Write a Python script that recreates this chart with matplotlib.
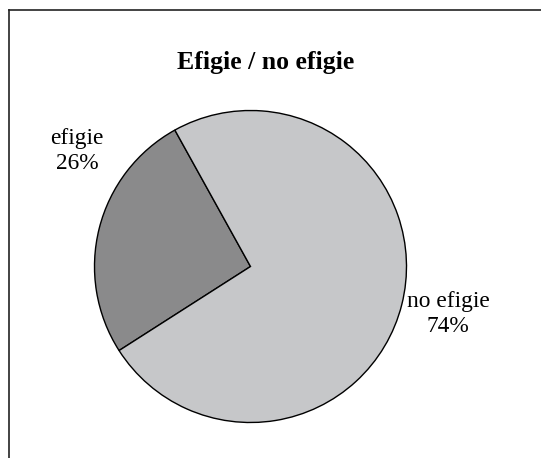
import matplotlib
matplotlib.use('Agg')
import matplotlib.pyplot as plt
from matplotlib.lines import Line2D

labels = ['efigie', 'no efigie']
values = [26, 74]
colors = ['#8a8a8b', '#c6c7c9']

plt.rcParams['font.family'] = ['Liberation Serif', 'DejaVu Serif']

W, H = 541, 458
fig = plt.figure(figsize=(W / 100, H / 100), dpi=100)

# pie box in pixels: centre (250, 266), radius 156
cx, cy, r = 250.5, 266.5, 156
ax = fig.add_axes([(cx - r) / W, (H - cy - r) / H, 2 * r / W, 2 * r / H])
ax.pie(values, colors=colors, startangle=119, counterclock=True,
       wedgeprops=dict(edgecolor='black', linewidth=1.0))
ax.set_xlim(-1, 1)
ax.set_ylim(-1, 1)
ax.set_aspect('equal')
ax.axis('off')

# chart border (top and left, the rest is cropped)
fig.add_artist(Line2D([8.5 / W, 1], [1 - 9.5 / H, 1 - 9.5 / H], color='#222222', lw=1.2))
fig.add_artist(Line2D([8.5 / W, 8.5 / W], [0, 1 - 9.5 / H], color='#222222', lw=1.2))

fig.text(266 / W, 1 - 63 / H, 'Efigie / no efigie', ha='center', va='center',
         fontsize=18.5, fontweight='bold')

label_pos = [(77, 151), (448, 314)]
for (px, py), lab, v in zip(label_pos, labels, values):
    fig.text(px / W, 1 - py / H, '%s\n%d%%' % (lab, v), ha='center', va='center',
             fontsize=16.8, linespacing=1.2)

fig.savefig('out.png', dpi=100)
